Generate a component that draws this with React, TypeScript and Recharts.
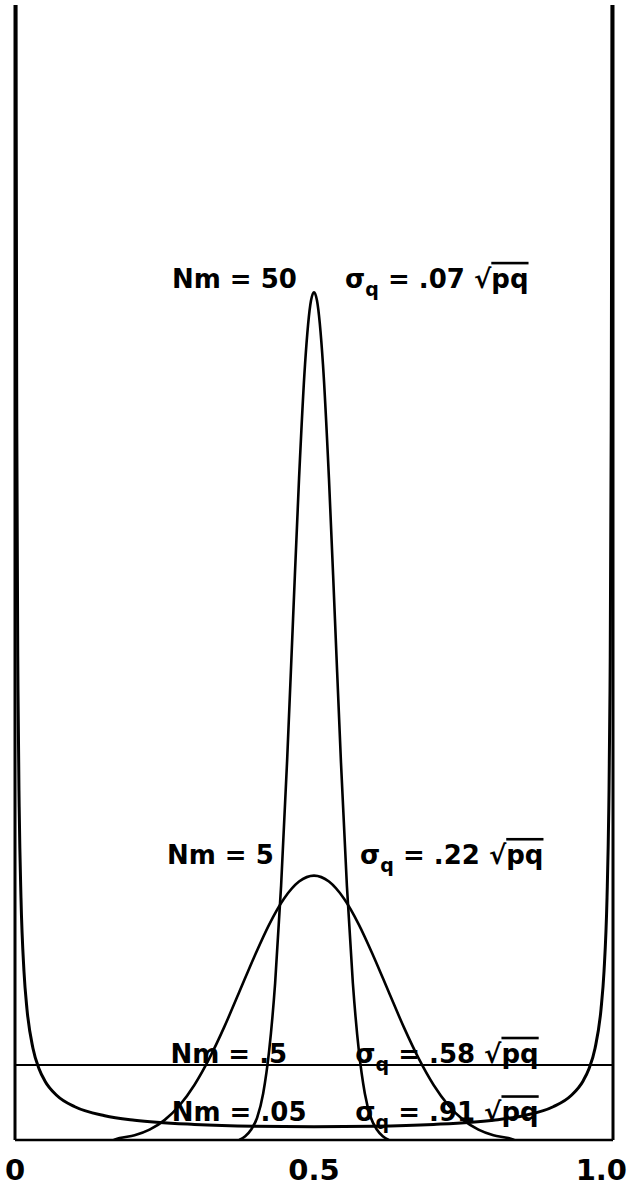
import React from "react";
import { LineChart, Line, XAxis, YAxis, ReferenceLine, ReferenceDot } from "recharts";

// Gene frequency q (x) and relative frequency (y)
const nm50Q = [0.375, 0.385, 0.395, 0.405, 0.415, 0.425, 0.435, 0.445, 0.455, 0.465, 0.475, 0.485, 0.495, 0.5, 0.505, 0.515, 0.525, 0.535, 0.545, 0.555, 0.565, 0.575, 0.585, 0.595, 0.605, 0.615, 0.625];
const nm50D = [0.0, 0.05, 0.14, 0.3, 0.62, 1.19, 2.09, 3.39, 5.05, 6.95, 8.82, 10.34, 11.19, 11.3, 11.19, 10.34, 8.82, 6.95, 5.05, 3.39, 2.09, 1.19, 0.62, 0.3, 0.14, 0.05, 0.0];

const nm5Q = [0.165, 0.175, 0.2, 0.225, 0.25, 0.275, 0.3, 0.325, 0.35, 0.375, 0.4, 0.425, 0.45, 0.475, 0.5, 0.525, 0.55, 0.575, 0.6, 0.625, 0.65, 0.675, 0.7, 0.725, 0.75, 0.775, 0.8, 0.825, 0.835];
const nm5D = [0.0, 0.025, 0.063, 0.138, 0.265, 0.46, 0.734, 1.088, 1.508, 1.972, 2.44, 2.872, 3.219, 3.445, 3.524, 3.445, 3.219, 2.872, 2.44, 1.972, 1.508, 1.088, 0.734, 0.46, 0.265, 0.138, 0.063, 0.025, 0.0];

const nmHalfQ = [0, 1];
const nmHalfD = [1, 1];

const nm005Q = [0.0015, 0.002, 0.003, 0.005, 0.007, 0.01, 0.015, 0.02, 0.03, 0.04, 0.05, 0.07, 0.1, 0.15, 0.2, 0.3, 0.4, 0.5, 0.6, 0.7, 0.8, 0.85, 0.9, 0.93, 0.95, 0.96, 0.97, 0.98, 0.985, 0.99, 0.993, 0.995, 0.997, 0.998, 0.9985];
const nm005D = [17.7, 13.6, 9.48, 6.0, 4.44, 3.23, 2.25, 1.746, 1.224, 0.954, 0.787, 0.593, 0.443, 0.324, 0.264, 0.207, 0.183, 0.177, 0.183, 0.207, 0.264, 0.324, 0.443, 0.593, 0.787, 0.954, 1.224, 1.746, 2.25, 3.23, 4.44, 6.0, 9.48, 13.6, 17.7];

const tickValues = [0, 0.5, 1];
const tickText = ["0", "0.5", "1.0"];

const nmLabels = [
  { x: 0.2625, y: 11.36, text: "Nm = 50" },
  { x: 0.254, y: 3.68, text: "Nm = 5" },
  { x: 0.26, y: 1.03, text: "Nm = .5" },
  { x: 0.262, y: 0.25, text: "Nm = .05" },
];
const sigmaLabels = [
  { x: 0.552, y: 11.36, coef: ".07" },
  { x: 0.577, y: 3.68, coef: ".22" },
  { x: 0.569, y: 1.03, coef: ".58" },
  { x: 0.569, y: 0.25, coef: ".91" },
];

const toPts = (qs: number[], ds: number[]) => qs.map((q, i) => ({ q, d: ds[i] }));

const FONT = "'DejaVu Sans', sans-serif";

const NmText = (props: any) => {
  const vb = props.viewBox || {};
  const x = (vb.x ?? 0) + (vb.width ?? 0) / 2;
  const y = (vb.y ?? 0) + (vb.height ?? 0) / 2;
  return (
    <text x={x} y={y} fontFamily={FONT} fontSize={26} fontWeight="bold" fill="#000">
      {props.text}
    </text>
  );
};

const SigmaText = (props: any) => {
  const vb = props.viewBox || {};
  const x = (vb.x ?? 0) + (vb.width ?? 0) / 2;
  const y = (vb.y ?? 0) + (vb.height ?? 0) / 2;
  return (
    <text x={x} y={y} fontFamily={FONT} fontSize={26} fontWeight="bold" fill="#000">
      σ
      <tspan dy={8} fontSize={19}>q</tspan>
      <tspan dy={-8}>{" = " + props.coef + " √"}</tspan>
      <tspan style={{ textDecoration: "overline" }}>pq</tspan>
    </text>
  );
};

const Tick = (props: any) => {
  const { x, y, index } = props;
  const last = index === tickText.length - 1;
  return (
    <text
      x={last ? x + 14 : x}
      y={y}
      dy={38}
      textAnchor={last ? "end" : "middle"}
      fontFamily={FONT}
      fontSize={29}
      fontWeight="bold"
      fill="#000"
    >
      {tickText[index]}
    </text>
  );
};

export default function App() {
  return (
    <div style={{ position: "absolute", left: 0, top: 0, background: "#fff" }}>
      <LineChart width={629} height={1195} margin={{ top: 5, right: 16, bottom: 0, left: 15 }}>
        <XAxis
          type="number"
          dataKey="q"
          domain={[0, 1]}
          ticks={tickValues}
          interval={0}
          height={55}
          axisLine={{ stroke: "#000", strokeWidth: 2.5 }}
          tickLine={false}
          tickSize={0}
          tick={<Tick />}
        />
        <YAxis type="number" hide domain={[0, 15.13]} allowDataOverflow />
        <ReferenceLine x={0} stroke="#000" strokeWidth={3} />
        <ReferenceLine x={1} stroke="#000" strokeWidth={3} />
        <Line data={toPts(nmHalfQ, nmHalfD)} dataKey="d" type="linear" stroke="#000" strokeWidth={2.2} dot={false} isAnimationActive={false} />
        <Line data={toPts(nm005Q, nm005D)} dataKey="d" type="monotone" stroke="#000" strokeWidth={3} dot={false} isAnimationActive={false} />
        <Line data={toPts(nm5Q, nm5D)} dataKey="d" type="monotone" stroke="#000" strokeWidth={2.6} dot={false} isAnimationActive={false} />
        <Line data={toPts(nm50Q, nm50D)} dataKey="d" type="monotone" stroke="#000" strokeWidth={2.6} dot={false} isAnimationActive={false} />
        {nmLabels.map((l, i) => (
          <ReferenceDot key={"n" + i} x={l.x} y={l.y} r={1} fill="none" stroke="none" label={<NmText text={l.text} />} />
        ))}
        {sigmaLabels.map((l, i) => (
          <ReferenceDot key={"s" + i} x={l.x} y={l.y} r={1} fill="none" stroke="none" label={<SigmaText coef={l.coef} />} />
        ))}
      </LineChart>
    </div>
  );
}
